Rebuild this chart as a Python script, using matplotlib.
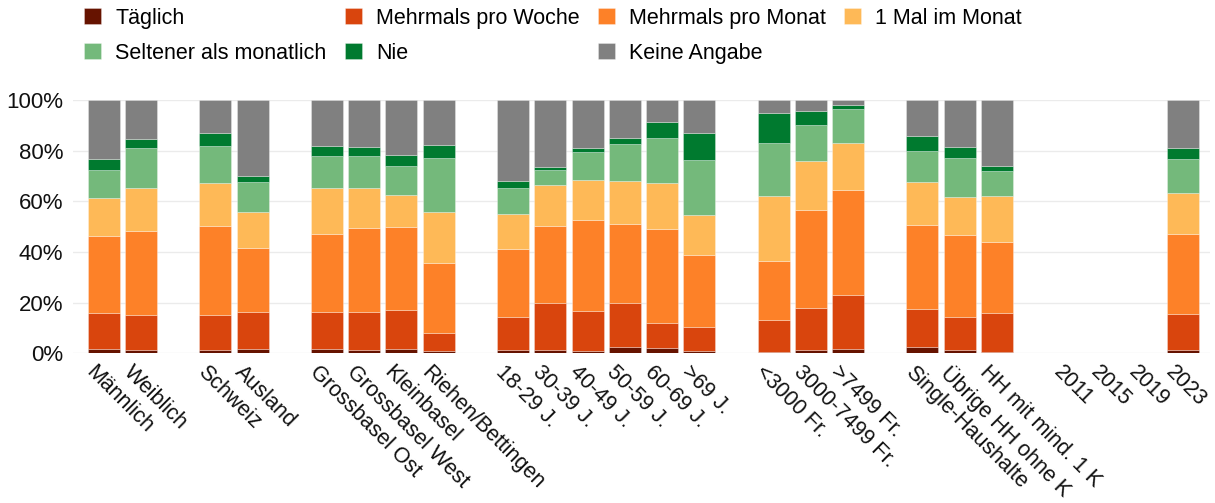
from matplotlib import pyplot as plt
from matplotlib.ticker import PercentFormatter
from matplotlib.transforms import ScaledTranslation
import numpy as np

plt.rcParams['font.family'] = ['Liberation Sans', 'DejaVu Sans']

nan = np.nan

# category groups, one empty slot between groups
groups = [
    ['Männlich', 'Weiblich'],
    ['Schweiz', 'Ausland'],
    ['Grossbasel Ost', 'Grossbasel West', 'Kleinbasel', 'Riehen/Bettingen'],
    ['18-29 J.', '30-39 J.', '40-49 J.', '50-59 J.', '60-69 J.', '>69 J.'],
    ['<3000 Fr.', '3000-7499 Fr.', '>7499 Fr.'],
    ['Single-Haushalte', 'Übrige HH ohne K', 'HH mit mind. 1 K'],
    ['2011', '2015', '2019', '2023'],
]

taeglich = [1.7, 1.3, 1.3, 1.7, 1.7, 1.3, 1.7, 0.8, 1.2, 1.3, 0.9, 2.5, 2.1, 0.9,
            0.5, 1.3, 1.8, 2.4, 1.4, 0.4, nan, nan, nan, 1.3]
woche = [14.3, 13.8, 13.8, 14.5, 14.5, 14.9, 15.4, 7.2, 13.1, 18.4, 15.9, 17.5, 9.7, 9.6,
         12.4, 16.5, 21.1, 15.2, 12.7, 15.3, nan, nan, nan, 14.1]
monat = [30.4, 33.2, 35.2, 25.5, 30.9, 33.4, 32.8, 27.7, 26.9, 30.6, 36.0, 30.9, 37.4, 28.4,
         23.5, 38.9, 41.7, 33.2, 32.6, 28.2, nan, nan, nan, 31.7]
einmal = [14.8, 17.0, 16.9, 14.1, 18.2, 15.7, 12.5, 20.2, 13.9, 16.1, 15.8, 17.1, 18.2, 15.7,
          25.6, 19.2, 18.6, 16.8, 14.9, 18.2, nan, nan, nan, 16.2]
seltener = [11.0, 15.6, 14.5, 11.8, 12.5, 12.6, 11.7, 21.2, 10.3, 6.1, 10.9, 14.5, 17.7, 21.8,
            20.9, 14.4, 13.1, 12.4, 15.6, 9.9, nan, nan, nan, 13.4]
nie = [4.5, 3.8, 5.1, 2.5, 4.2, 3.5, 4.2, 5.0, 2.6, 1.1, 1.4, 2.6, 6.2, 10.6,
       12.1, 5.5, 1.6, 5.9, 4.1, 2.1, nan, nan, nan, 4.2]
keine = [23.3, 15.3, 13.2, 29.9, 18.0, 18.6, 21.7, 17.9, 32.0, 26.4, 19.1, 14.9, 8.7, 13.0,
         5.0, 4.2, 2.1, 14.1, 18.7, 25.9, nan, nan, nan, 19.1]

series = [
    ('Täglich', taeglich, '#661300'),
    ('Mehrmals pro Woche', woche, '#d9450d'),
    ('Mehrmals pro Monat', monat, '#fd8128'),
    ('1 Mal im Monat', einmal, '#feb957'),
    ('Seltener als monatlich', seltener, '#74b97b'),
    ('Nie', nie, '#007a2f'),
    ('Keine Angabe', keine, '#808080'),
]

labels = []
xpos = []
p = 0
for g in groups:
    for name in g:
        labels.append(name)
        xpos.append(p)
        p += 1
    p += 1
xpos = np.array(xpos)

fig = plt.figure(figsize=(12.15, 5.03), dpi=100)
ax = fig.add_axes([0.060, 0.298, 0.936, 0.503])

bottom = np.zeros(len(labels))
handles = []
for name, vals, color in series:
    vals = np.array(vals, dtype=float)
    b = ax.bar(xpos, vals, bottom=bottom, width=0.86, color=color,
               edgecolor=(1, 1, 1, 0.35), linewidth=0.6, label=name)
    handles.append(b)
    bottom = bottom + vals

ax.set_xlim(-0.83, 29.73)
ax.set_ylim(0, 100)
ax.set_yticks([0, 20, 40, 60, 80, 100])
ax.yaxis.set_major_formatter(PercentFormatter(decimals=0))
ax.grid(axis='y', color='#ebebeb', linewidth=1)
ax.set_axisbelow(True)
for s in ax.spines.values():
    s.set_visible(False)
ax.tick_params(axis='both', length=0, labelsize=16, colors='#111111')
ax.tick_params(axis='y', pad=7)
ax.tick_params(axis='x', pad=5, labelsize=15.5)
ax.set_xticks(xpos)
ax.set_xticklabels(labels, rotation=-45, ha='left', rotation_mode='anchor')
shift = ScaledTranslation(-7 / 100, -2 / 100, fig.dpi_scale_trans)
for t in ax.get_xticklabels():
    t.set_transform(t.get_transform() + shift)

# legend filled row by row
order = [0, 4, 1, 5, 2, 6, 3]
fig.legend([handles[i] for i in order], [series[i][0] for i in order],
           loc='upper left', bbox_to_anchor=(0.069, 0.985), ncol=4, frameon=False,
           fontsize=15.5, handlelength=0.8, handleheight=0.8, handletextpad=0.65,
           columnspacing=0.85, labelspacing=0.65, borderpad=0, borderaxespad=0)

plt.savefig('out.png', dpi=100)
